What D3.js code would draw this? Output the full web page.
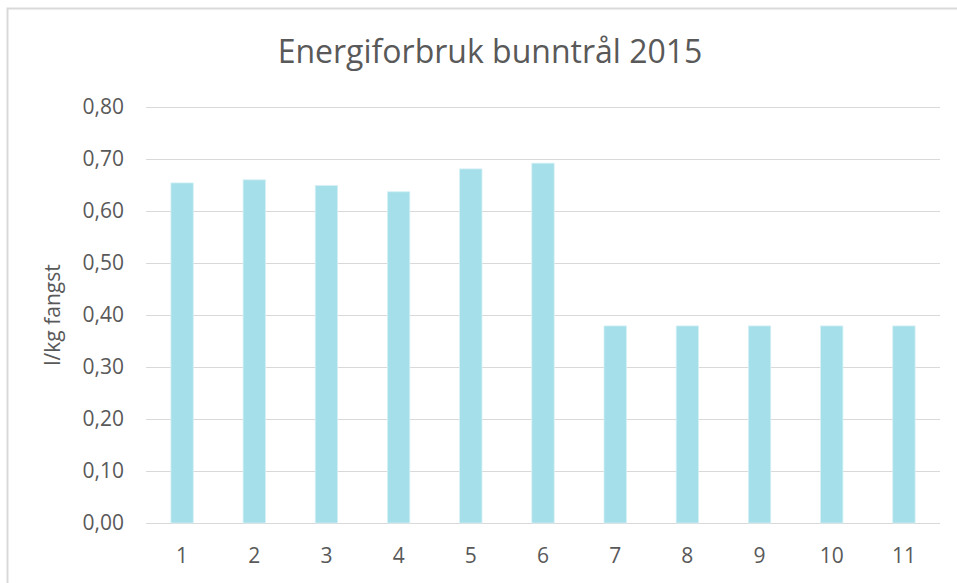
<!DOCTYPE html>
<html>
<head>
<meta charset="utf-8">
<script src="https://cdn.jsdelivr.net/npm/d3@7"></script>
<style>
  html, body { margin: 0; padding: 0; background: #fff; }
  text { font-family: "Open Sans", "Liberation Sans", sans-serif; fill: #595959; }
</style>
</head>
<body>
<div id="chart"></div>
<script>
// data
var categories = ["1", "2", "3", "4", "5", "6", "7", "8", "9", "10", "11"]
var values = [0.654, 0.660, 0.649, 0.637, 0.681, 0.692, 0.379, 0.379, 0.379, 0.379, 0.379]
var yTicks = [0, 0.1, 0.2, 0.3, 0.4, 0.5, 0.6, 0.7, 0.8]
var title = "Energiforbruk bunntrål 2015"
var yLabel = "l/kg fangst"

var width = 957, height = 583
var margin = {top: 107, right: 17, bottom: 60, left: 146}
var innerW = width - margin.left - margin.right
var innerH = height - margin.top - margin.bottom

var svg = d3.select("#chart").append("svg")
    .attr("width", width)
    .attr("height", height)

// outer chart frame
svg.append("path")
    .attr("d", `M7.5,${height + 5} V8.5 H${width + 5}`)
    .attr("fill", "none")
    .attr("stroke", "#d9d9d9")
    .attr("stroke-width", 2)

svg.append("text")
    .attr("x", 490)
    .attr("y", 63)
    .attr("text-anchor", "middle")
    .style("font-size", "32px")
    .text(title)

var plot = svg.append("g")
    .attr("transform", `translate(${margin.left},${margin.top})`)

var xScale = d3.scaleBand().domain(categories).range([0, innerW]).paddingInner(0.69).paddingOuter(0.345)
var yScale = d3.scaleLinear().domain([0, 0.8]).range([innerH, 0])

var fmt = d => d3.format(".2f")(d).replace(".", ",")

var yAxis = d3.axisLeft(yScale).tickValues(yTicks).tickSize(-innerW).tickFormat(fmt).tickPadding(22)
plot.append("g")
    .attr("class", "y axis")
    .call(yAxis)
    .call(g => g.select(".domain").remove())
    .call(g => g.selectAll(".tick line").attr("stroke", "#d9d9d9").attr("stroke-width", 1))
    .call(g => g.selectAll(".tick text").style("font-size", "21px").attr("fill", "#595959"))

var xAxis = d3.axisBottom(xScale).tickSize(0).tickPadding(25)
plot.append("g")
    .attr("class", "x axis")
    .attr("transform", `translate(0,${innerH})`)
    .call(xAxis)
    .call(g => g.select(".domain").remove())
    .call(g => g.selectAll(".tick text").style("font-size", "21px").attr("fill", "#595959"))

plot.selectAll("rect.bar")
    .data(values)
    .enter().append("rect")
    .attr("class", "bar")
    .attr("x", (d, i) => xScale(categories[i]))
    .attr("y", d => yScale(d))
    .attr("width", xScale.bandwidth())
    .attr("height", d => innerH - yScale(d))
    .attr("fill", "#a5dfe9")
    .attr("stroke", "#d6f1f6")
    .attr("stroke-width", 0.8)

svg.append("text")
    .attr("transform", `translate(60,${margin.top + innerH / 2}) rotate(-90)`)
    .attr("text-anchor", "middle")
    .style("font-size", "21px")
    .text(yLabel)
</script>
</body>
</html>
